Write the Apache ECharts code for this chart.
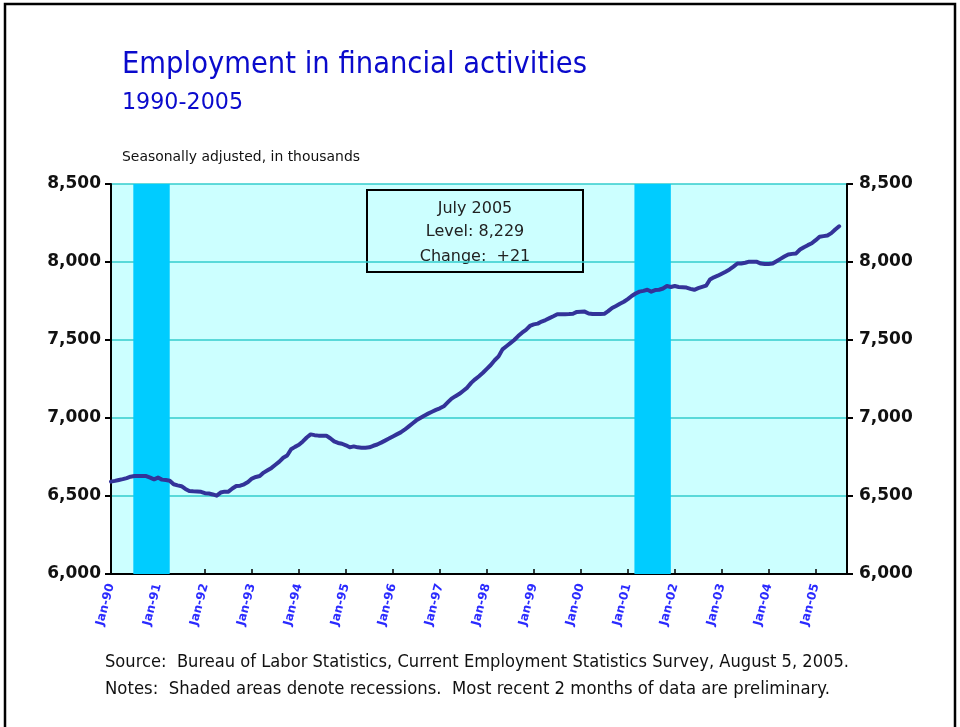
<!DOCTYPE html>
<html>
<head>
<meta charset="utf-8">
<script src="https://cdn.jsdelivr.net/npm/echarts@6/dist/echarts.min.js"></script>
<style>
  html, body { margin: 0; padding: 0; background: #fff; }
  #main { width: 960px; height: 727px; }
</style>
</head>
<body>
<div id="main"></div>
<script>
// monthly employment, thousands, Jan-1990 .. Jul-2005
const y1990 = [6592, 6597, 6603, 6608, 6615, 6624, 6628, 6628, 6628, 6628, 6618, 6607]
const y1991 = [6618, 6605, 6602, 6598, 6575, 6568, 6563, 6545, 6532, 6530, 6529, 6527]
const y1992 = [6518, 6516, 6510, 6502, 6522, 6528, 6528, 6548, 6564, 6566, 6575, 6590]
const y1993 = [6612, 6622, 6628, 6650, 6665, 6680, 6700, 6720, 6745, 6760, 6800, 6815]
const y1994 = [6828, 6850, 6875, 6895, 6890, 6887, 6887, 6887, 6870, 6850, 6840, 6835]
const y1995 = [6825, 6812, 6818, 6812, 6810, 6810, 6812, 6822, 6830, 6842, 6855, 6868]
const y1996 = [6882, 6895, 6908, 6925, 6945, 6965, 6985, 7000, 7015, 7028, 7040, 7052]
const y1997 = [7062, 7075, 7100, 7124, 7140, 7155, 7175, 7195, 7225, 7248, 7268, 7290]
const y1998 = [7315, 7340, 7370, 7395, 7440, 7460, 7480, 7500, 7525, 7547, 7565, 7590]
const y1999 = [7600, 7605, 7618, 7628, 7640, 7652, 7665, 7665, 7665, 7666, 7668, 7680]
const y2000 = [7681, 7682, 7670, 7667, 7667, 7666, 7668, 7685, 7705, 7718, 7732, 7745]
const y2001 = [7762, 7782, 7798, 7810, 7815, 7822, 7810, 7820, 7822, 7830, 7846, 7840]
const y2002 = [7846, 7840, 7838, 7836, 7828, 7822, 7832, 7840, 7848, 7888, 7902, 7912]
const y2003 = [7925, 7938, 7952, 7970, 7990, 7991, 7995, 8002, 8002, 8001, 7990, 7987]
const y2004 = [7987, 7990, 8005, 8020, 8035, 8048, 8052, 8055, 8080, 8095, 8108, 8120]
const y2005 = [8140, 8162, 8166, 8170, 8185, 8208, 8229]

// recessions, [start, end] as year-month
const recessions = [['1990-07', '1991-03'], ['2001-03', '2001-11']]
const yTicks = [6000, 6500, 7000, 7500, 8000, 8500]

const values = [].concat(y1990, y1991, y1992, y1993, y1994, y1995, y1996, y1997,
  y1998, y1999, y2000, y2001, y2002, y2003, y2004, y2005)
const lineData = values.map((v, i) => [i, v])

const monthIndex = s => {
  const [y, m] = s.split('-').map(Number)
  return (y - 1990) * 12 + (m - 1)
}
const recAreas = recessions.map(r => [
  { xAxis: monthIndex(r[0]) - 0.3 },
  { xAxis: monthIndex(r[1]) + 1 }
])

const last = values[values.length - 1]
const prev = values[values.length - 2]
const lastIdx = values.length - 1
const lastLabel = ['January', 'February', 'March', 'April', 'May', 'June', 'July', 'August',
  'September', 'October', 'November', 'December'][lastIdx % 12] + ' ' + (1990 + Math.floor(lastIdx / 12))

const fmt = n => n.toLocaleString('en-US')

// fit text horizontally to a measured width
const ctx = document.createElement('canvas').getContext('2d')
const fitText = (text, font, targetW) => {
  ctx.font = font
  return targetW / ctx.measureText(text).width
}

const titleFont = '30px "DejaVu Sans"'
const subFont = '23px "DejaVu Sans"'
const noteFont = '13.5px "DejaVu Sans"'
const footFont = '17px "DejaVu Sans"'
const t1 = 'Employment in financial activities'
const t2 = '1990-2005'
const t3 = 'Seasonally adjusted, in thousands'
const f1 = 'Source:  Bureau of Labor Statistics, Current Employment Statistics Survey, August 5, 2005.'
const f2 = 'Notes:  Shaded areas denote recessions.  Most recent 2 months of data are preliminary.'

const chart = echarts.init(document.getElementById('main'))

let option = {
  backgroundColor: '#fff',
  animation: false,
  grid: {
    left: 111,
    right: 113,
    top: 184,
    bottom: 153,
    show: true,
    backgroundColor: '#ccffff',
    borderWidth: 0
  },
  xAxis: {
    type: 'value',
    min: 0,
    max: 188,
    interval: 12,
    axisLine: { onZero: false, lineStyle: { color: '#000', width: 2 } },
    axisTick: { inside: true, length: 5, lineStyle: { color: '#000', width: 1.5 } },
    splitLine: { show: false },
    axisLabel: {
      rotate: 75,
      margin: 10,
      color: '#2a2aff',
      fontFamily: 'DejaVu Sans',
      fontWeight: 'bold',
      fontSize: 12,
      showMaxLabel: false,
      formatter: v => (v % 12 === 0 && v < 188) ? 'Jan-' + String((1990 + v / 12) % 100).padStart(2, '0') : ''
    }
  },
  yAxis: [
    {
      type: 'value',
      min: yTicks[0],
      max: yTicks[yTicks.length - 1],
      interval: 500,
      axisLine: { show: true, lineStyle: { color: '#000', width: 2 } },
      axisTick: { show: true, length: 6, lineStyle: { color: '#000', width: 2 } },
      splitLine: { show: true, lineStyle: { color: '#33cccc', width: 1.5 } },
      axisLabel: {
        margin: 10,
        color: '#111',
        fontFamily: 'DejaVu Sans',
        fontWeight: 'bold',
        fontSize: 17,
        formatter: v => fmt(v)
      }
    },
    {
      type: 'value',
      position: 'right',
      min: yTicks[0],
      max: yTicks[yTicks.length - 1],
      interval: 500,
      axisLine: { show: true, lineStyle: { color: '#000', width: 2 } },
      axisTick: { show: true, length: 6, lineStyle: { color: '#000', width: 2 } },
      splitLine: { show: false },
      axisLabel: {
        margin: 12,
        color: '#111',
        fontFamily: 'DejaVu Sans',
        fontWeight: 'bold',
        fontSize: 17,
        formatter: v => fmt(v)
      }
    }
  ],
  series: [
    {
      name: 'Recessions',
      type: 'line',
      data: [],
      z: 1,
      silent: true,
      markArea: {
        silent: true,
        itemStyle: { color: '#00ccff', opacity: 1 },
        data: recAreas
      }
    },
    {
      name: 'Financial activities',
      type: 'line',
      data: lineData,
      z: 5,
      showSymbol: false,
      symbol: 'none',
      lineStyle: { color: '#333399', width: 4, cap: 'round', join: 'round' }
    }
  ],
  graphic: [
    {
      type: 'rect',
      shape: { x: 5, y: 4, width: 950, height: 740 },
      style: { fill: 'none', stroke: '#000', lineWidth: 2.5 },
      z: 0
    },
    {
      type: 'text', x: 122, y: 65, scaleX: fitText(t1, titleFont, 465),
      style: { text: t1, font: titleFont, fill: '#0a0acc', textVerticalAlign: 'middle' }
    },
    {
      type: 'text', x: 122, y: 103, scaleX: fitText(t2, subFont, 121),
      style: { text: t2, font: subFont, fill: '#0a0acc', textVerticalAlign: 'middle' }
    },
    {
      type: 'text', x: 122, y: 157, scaleX: fitText(t3, noteFont, 238),
      style: { text: t3, font: noteFont, fill: '#111', textVerticalAlign: 'middle' }
    },
    {
      type: 'text', x: 105, y: 663, scaleX: fitText(f1, footFont, 744),
      style: { text: f1, font: footFont, fill: '#111', textVerticalAlign: 'middle' }
    },
    {
      type: 'text', x: 105, y: 690, scaleX: fitText(f2, footFont, 725),
      style: { text: f2, font: footFont, fill: '#111', textVerticalAlign: 'middle' }
    },
    {
      type: 'group',
      z: 10,
      children: [
        {
          type: 'rect',
          shape: { x: 367, y: 190, width: 216, height: 82 },
          style: { fill: '#ccffff', stroke: '#000', lineWidth: 2 }
        },
        {
          type: 'text', x: 475, y: 209,
          style: { text: lastLabel, font: '16px "DejaVu Sans"', fill: '#222', textAlign: 'center', textVerticalAlign: 'middle' }
        },
        {
          type: 'text', x: 475, y: 232,
          style: { text: 'Level: ' + fmt(last), font: '16px "DejaVu Sans"', fill: '#222', textAlign: 'center', textVerticalAlign: 'middle' }
        },
        {
          type: 'text', x: 475, y: 257,
          style: { text: 'Change:  +' + (last - prev), font: '16px "DejaVu Sans"', fill: '#222', textAlign: 'center', textVerticalAlign: 'middle' }
        }
      ]
    }
  ]
}

chart.setOption(option)
</script>
</body>
</html>
